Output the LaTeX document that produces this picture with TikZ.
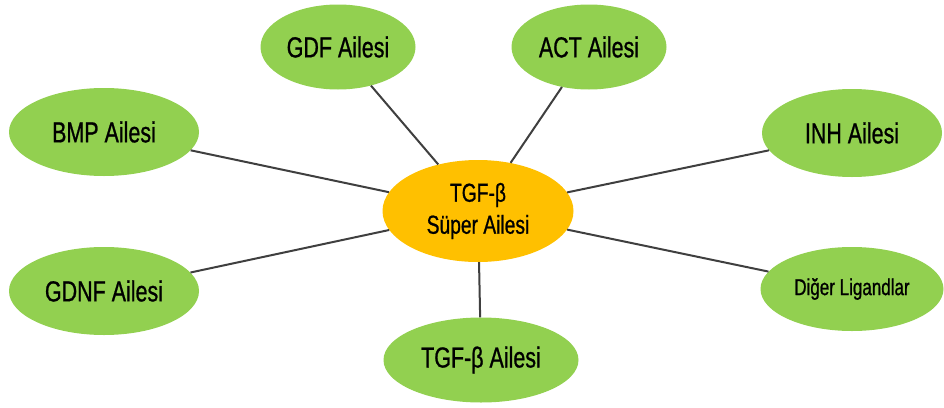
\documentclass[tikz,border=0pt]{standalone}
\usepackage{fontspec}
\setmainfont{Liberation Sans}[FakeStretch=0.74,FakeBold=0.8]
\usetikzlibrary{shapes.geometric}
\definecolor{famgreen}{HTML}{92D050}
\definecolor{hubgold}{HTML}{FFC000}
\definecolor{linkgray}{HTML}{3F3F3F}
\tikzset{
  family/.style={ellipse, fill=famgreen, inner sep=0pt, minimum width=190pt, minimum height=88pt, font=\fontsize{29}{32}\selectfont},
  hub/.style={ellipse, fill=hubgold, inner sep=0pt, minimum width=191pt, minimum height=102pt, align=center, font=\fontsize{26}{32}\selectfont},
  link/.style={draw=linkgray, line width=2pt}
}
\begin{document}
\begin{tikzpicture}[x=1pt,y=-1pt]
\useasboundingbox (0,0) rectangle (944,407);

% center
\node[hub] (super) at (478,211) {TGF-β\\Süper Ailesi};

% families round the hub
\node[family, minimum width=155pt, minimum height=85pt] (gdf) at (338,47) {GDF Ailesi};
\node[family, minimum width=155pt, minimum height=85pt] (act) at (589,47) {ACT Ailesi};
\node[family] (bmp) at (104,132) {BMP Ailesi};
\node[family, minimum width=180pt] (inh) at (852,133) {INH Ailesi};
\node[family] (gdnf) at (104,291) {GDNF Ailesi};
\node[family, minimum width=183pt, minimum height=84pt, font=\fontsize{23}{27}\selectfont] (other) at (852,289) {Diğer Ligandlar};
\node[family, minimum width=195pt, minimum height=85pt] (tgfb) at (481,360) {TGF-β Ailesi};

\foreach \f in {gdf,act,bmp,inh,gdnf,other,tgfb} {
\draw[link] (super) -- (\f);
}
\end{tikzpicture}
\end{document}
